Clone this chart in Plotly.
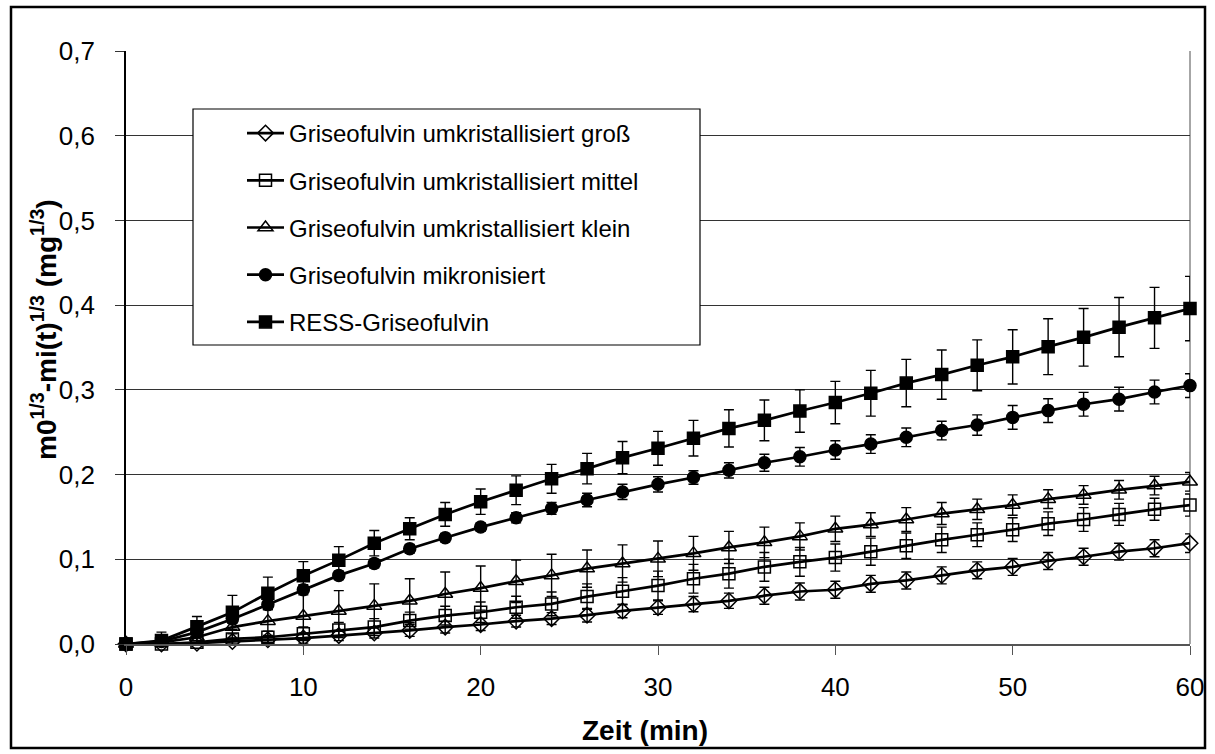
import plotly.graph_objects as go

# Zeitpunkte (min)
zeit = list(range(0, 62, 2))

# Griseofulvin umkristallisiert groß
gross = [0.0, 0.0, 0.001, 0.003, 0.005, 0.007, 0.010, 0.013, 0.016, 0.020,
         0.023, 0.027, 0.030, 0.034, 0.039, 0.043, 0.047, 0.051, 0.057, 0.062,
         0.064, 0.071, 0.075, 0.081, 0.087, 0.091, 0.098, 0.103, 0.109, 0.113, 0.119]
gross_err = [0.0, 0.003, 0.003, 0.004, 0.005, 0.006, 0.006, 0.006, 0.007, 0.007,
             0.007, 0.007, 0.007, 0.008, 0.008, 0.008, 0.009, 0.009, 0.010, 0.010,
             0.010, 0.010, 0.010, 0.010, 0.010, 0.010, 0.010, 0.010, 0.010, 0.010, 0.011]

# Griseofulvin umkristallisiert mittel
mittel = [0.0, 0.0, 0.002, 0.006, 0.008, 0.012, 0.0165, 0.020, 0.0276, 0.0335,
          0.0375, 0.0434, 0.0473, 0.056, 0.0623, 0.069, 0.077, 0.083, 0.091, 0.097,
          0.102, 0.109, 0.116, 0.123, 0.129, 0.135, 0.142, 0.147, 0.153, 0.159, 0.164]
mittel_err = [0.0, 0.004, 0.005, 0.006, 0.007, 0.008, 0.009, 0.010, 0.010, 0.011,
              0.012, 0.013, 0.014, 0.015, 0.016, 0.017, 0.017, 0.017, 0.017, 0.017,
              0.016, 0.016, 0.015, 0.015, 0.014, 0.014, 0.014, 0.014, 0.013, 0.013, 0.013]

# Griseofulvin umkristallisiert klein
klein = [0.0, 0.002, 0.008, 0.020, 0.027, 0.033, 0.039, 0.045, 0.051, 0.059,
         0.066, 0.074, 0.081, 0.089, 0.095, 0.1005, 0.107, 0.114, 0.120, 0.127,
         0.136, 0.141, 0.147, 0.154, 0.159, 0.164, 0.171, 0.176, 0.182, 0.187, 0.1915]
klein_err = [0.0, 0.008, 0.010, 0.015, 0.025, 0.035, 0.024, 0.026, 0.026, 0.026,
             0.026, 0.025, 0.025, 0.022, 0.022, 0.021, 0.020, 0.019, 0.018, 0.016,
             0.015, 0.014, 0.014, 0.013, 0.012, 0.012, 0.011, 0.011, 0.011, 0.011, 0.011]

# Griseofulvin mikronisiert
mikro = [0.0, 0.003, 0.014, 0.0295, 0.0465, 0.064, 0.081, 0.095, 0.1125, 0.1255,
         0.138, 0.149, 0.160, 0.170, 0.1795, 0.1885, 0.1965, 0.205, 0.214, 0.221,
         0.229, 0.236, 0.244, 0.252, 0.2585, 0.2675, 0.2755, 0.283, 0.289, 0.2975, 0.305]
mikro_err = [0.0, 0.003, 0.004, 0.005, 0.006, 0.006, 0.005, 0.005, 0.005, 0.005,
             0.005, 0.006, 0.007, 0.008, 0.009, 0.009, 0.008, 0.009, 0.010, 0.011,
             0.011, 0.011, 0.011, 0.011, 0.012, 0.014, 0.014, 0.014, 0.014, 0.014, 0.014]

# RESS-Griseofulvin
ress = [0.0, 0.004, 0.0205, 0.0374, 0.060, 0.0807, 0.099, 0.119, 0.136, 0.153,
        0.168, 0.1815, 0.195, 0.207, 0.220, 0.231, 0.243, 0.2545, 0.264, 0.275,
        0.285, 0.296, 0.308, 0.318, 0.329, 0.339, 0.351, 0.362, 0.374, 0.385, 0.396]
ress_err = [0.0, 0.010, 0.012, 0.020, 0.019, 0.0165, 0.016, 0.015, 0.013, 0.014,
            0.015, 0.017, 0.017, 0.018, 0.019, 0.020, 0.021, 0.022, 0.024, 0.025,
            0.025, 0.027, 0.028, 0.029, 0.030, 0.032, 0.033, 0.034, 0.035, 0.036, 0.038]

serien = [
    ("Griseofulvin umkristallisiert groß", gross, gross_err, "diamond-open", 12),
    ("Griseofulvin umkristallisiert mittel", mittel, mittel_err, "square-open", 12),
    ("Griseofulvin umkristallisiert klein", klein, klein_err, "triangle-up-open", 13),
    ("Griseofulvin mikronisiert", mikro, mikro_err, "circle", 12),
    ("RESS-Griseofulvin", ress, ress_err, "square", 12),
]

fig = go.Figure()
for i, (name, werte, fehler, symbol, size) in enumerate(serien):
    fig.add_trace(go.Scatter(
        x=zeit, y=werte, name=name, mode="lines+markers",
        legendgroup=f"g{i}",
        line=dict(color="black", width=2.7),
        marker=dict(symbol=symbol, size=size, color="black",
                    line=dict(color="black", width=1.5)),
        error_y=dict(type="data", array=fehler, visible=True,
                     color="black", thickness=1.4, width=5),
        cliponaxis=False,
    ))

# Seitenränder der Zeichenfläche (px)
L, R, T, B = 126, 25, 51, 110
W, H = 1215, 754
pw, ph = W - L - R, H - T - B


def px_x(v):
    return (v - L) / pw


def px_y(v):
    return (H - B - v) / ph


fig.update_layout(
    width=W, height=H,
    margin=dict(l=L, r=R, t=T, b=B),
    paper_bgcolor="white", plot_bgcolor="white",
    separators=", ",
    font=dict(family="Liberation Sans, Arial, sans-serif", size=26, color="black"),
    showlegend=True,
    legend=dict(
        x=px_x(242), y=px_y(111), xanchor="left", yanchor="top",
        bgcolor="rgba(0,0,0,0)", borderwidth=0,
        font=dict(size=24), tracegroupgap=13, traceorder="grouped",
        itemwidth=37,
    ),
    xaxis=dict(
        range=[0, 60], dtick=10, tick0=0,
        showgrid=False, zeroline=False,
        showline=True, linecolor="#555555", linewidth=2,
        ticks="outside", ticklen=9, tickcolor="#555555", tickwidth=1.2,
        ticklabelstandoff=10,
    ),
    yaxis=dict(
        range=[0, 0.7], dtick=0.1, tick0=0, tickformat=".1f",
        showgrid=True, gridcolor="#333333", gridwidth=1,
        zeroline=False,
        showline=True, linecolor="black", linewidth=1.8,
        ticks="outside", ticklen=9, tickcolor="#333333", tickwidth=1,
        ticklabelstandoff=15,
    ),
    annotations=[
        dict(text="<b>Zeit (min)</b>", xref="paper", yref="paper",
             x=px_x(645), y=px_y(730), xanchor="center", yanchor="middle",
             showarrow=False, font=dict(size=28)),
        dict(text="<b>m0<sup>1/3</sup>-mi(t)<sup>1/3</sup> (mg<sup>1/3</sup>)</b>",
             xref="paper", yref="paper", textangle=-90,
             x=px_x(44), y=px_y(330), xanchor="center", yanchor="middle",
             showarrow=False, font=dict(size=28)),
    ],
    shapes=[
        # Rahmen um das Diagramm
        dict(type="rect", xref="paper", yref="paper",
             x0=px_x(11), x1=px_x(1205), y0=px_y(748), y1=px_y(7),
             line=dict(color="black", width=2.5), layer="below"),
        # rechte Begrenzung der Zeichenfläche
        dict(type="line", xref="paper", yref="paper",
             x0=1, x1=1, y0=0, y1=1,
             line=dict(color="#888888", width=1.5), layer="below"),
        # Legendenkasten
        dict(type="rect", xref="paper", yref="paper",
             x0=px_x(193), x1=px_x(700), y0=px_y(345), y1=px_y(109),
             fillcolor="white", line=dict(color="black", width=1.2), layer="above"),
    ],
)

fig.write_html("out.html")
